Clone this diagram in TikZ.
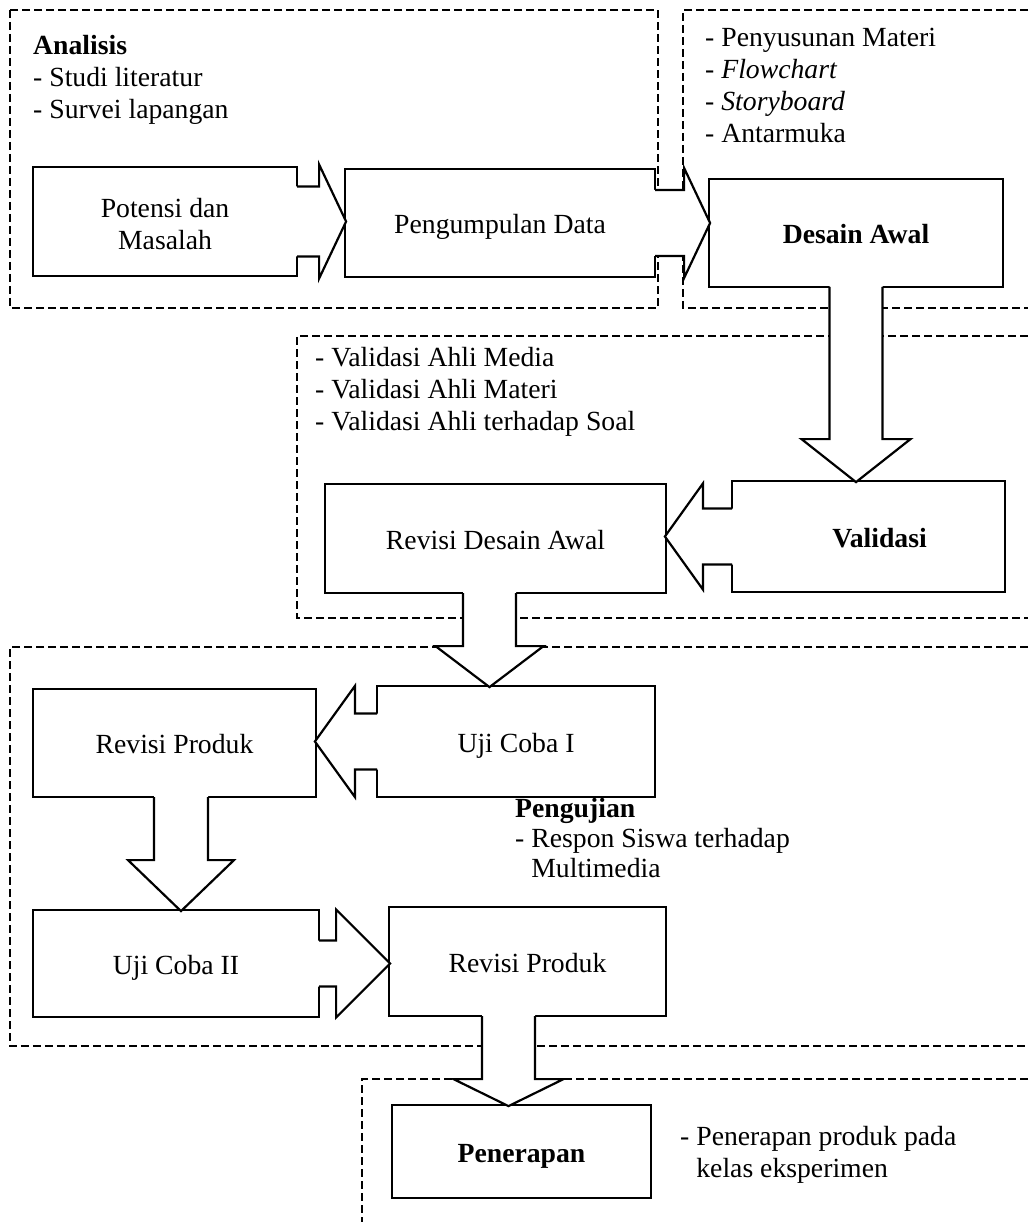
\documentclass[tikz,border=0pt]{standalone}
\usepackage{fontspec}
\setmainfont{Liberation Serif}
\usetikzlibrary{calc}
\begin{document}
\begin{tikzpicture}[x=1pt,y=-1pt,
  font=\fontsize{27.7pt}{32pt}\selectfont,
  frame/.style={line width=2pt, dash pattern=on 8pt off 4pt},
  box/.style={draw, line width=2.2pt, fill=white, inner sep=0pt},
  boxtext/.style={text height=21pt, text depth=0pt},
  list/.style={anchor=base west, inner sep=0pt},
  arrline/.style={line width=2.2pt, line join=miter},
  pics/rarr/.style n args={4}{code={
    \fill[white] (-3,-#1) -- (#2,-#1) -- (#2,-#3) -- (#4,0) -- (#2,#3) -- (#2,#1) -- (-3,#1) -- cycle;
    \draw[arrline] (-1.1,-#1) -- (#2,-#1) -- (#2,-#3) -- (#4,0) -- (#2,#3) -- (#2,#1) -- (-1.1,#1);
  }},
  pics/darr/.style n args={4}{code={
    \fill[white] (-#1,-3) -- (-#1,#2) -- (-#3,#2) -- (0,#4) -- (#3,#2) -- (#1,#2) -- (#1,-3) -- cycle;
    \draw[arrline] (-#1,-1.1) -- (-#1,#2) -- (-#3,#2) -- (0,#4) -- (#3,#2) -- (#1,#2) -- (#1,-1.1);
  }}
]
\useasboundingbox (0,0) rectangle (1028,1222);

% dashed stage frames
\draw[frame] (10,10) rectangle (658,308);
\draw[frame] (1028,10) -- (683,10) -- (683,308) -- (1028,308);
\draw[frame] (1028,336) -- (297,336) -- (297,618) -- (1028,618);
\draw[frame] (1028,647) -- (10,647) -- (10,1046) -- (1028,1046);
\draw[frame] (1028,1079) -- (362,1079) -- (362,1222);

% process boxes
\node[box, minimum width=264pt, minimum height=109pt,
      label={[align=center, inner sep=0pt, yshift=-3pt]center:Potensi dan\\Masalah}] (pot) at (165,221.5) {};
\node[box, boxtext, minimum width=310pt, minimum height=108pt] (pgd) at (500,223) {Pengumpulan Data};
\node[box, boxtext, minimum width=294pt, minimum height=108pt] (des) at (856,233) {\textbf{Desain Awal}};
\node[box, minimum width=273pt, minimum height=111pt,
      label={[boxtext, inner sep=0pt, xshift=11pt]center:\textbf{Validasi}}] (val) at (868.5,536.5) {};
\node[box, boxtext, minimum width=341pt, minimum height=109pt] (rda) at (495.5,538.5) {Revisi Desain Awal};
\node[box, boxtext, minimum width=278pt, minimum height=111pt] (uc1) at (516,741.5) {Uji Coba I};
\node[box, boxtext, minimum width=283pt, minimum height=108pt] (rp1) at (174.5,743) {Revisi Produk};
\node[box, boxtext, minimum width=286pt, minimum height=107pt] (uc2) at (176,963.5) {Uji Coba II};
\node[box, boxtext, minimum width=277pt, minimum height=109pt] (rp2) at (527.5,961.5) {Revisi Produk};
\node[box, boxtext, minimum width=259pt, minimum height=93pt] (pen) at (521.5,1151.5) {\textbf{Penerapan}};

% block arrows
\pic at (pot.east) {rarr={35}{21}{57}{48}};
\pic at (pgd.east) {rarr={33}{28}{55}{54}};
\pic at (des.south) {darr={26.5}{151}{54.5}{194}};
\pic[xscale=-1] at (val.west) {rarr={28}{28}{53}{66}};
\pic at ([xshift=-6pt]rda.south) {darr={26.5}{52}{54}{93}};
\pic[xscale=-1] at (uc1.west) {rarr={28}{21}{55.5}{61}};
\pic at ([xshift=6.5pt]rp1.south) {darr={27}{62}{53}{113}};
\pic at (uc2.east) {rarr={23}{16}{54}{70}};
\pic at ([xshift=-19pt]rp2.south) {darr={26.5}{62}{55}{89}};

% stage lists
\node[list] (anl) at (33,55) {\begin{tabular}[t]{@{}l@{}}\textbf{Analisis}\\- Studi literatur\\- Survei lapangan\end{tabular}};
\node[list] (dsl) at (705,47) {\begin{tabular}[t]{@{}l@{}}- Penyusunan Materi\\- \textit{Flowchart}\\- \textit{Storyboard}\\- Antarmuka\end{tabular}};
\node[list] (vll) at (315,366) {\begin{tabular}[t]{@{}l@{}}- Validasi Ahli Media\\- Validasi Ahli Materi\\- Validasi Ahli terhadap Soal\end{tabular}};
\node[list] (pgl) at (515,817) {\begin{tabular}[t]{@{}l@{}}\textbf{Pengujian}\\[-2pt]- Respon Siswa terhadap\\[-2pt]\hphantom{-\ }Multimedia\end{tabular}};
\node[list] (pnl) at (680,1145) {\begin{tabular}[t]{@{}l@{}}- Penerapan produk pada\\\hphantom{-\ }kelas eksperimen\end{tabular}};
\end{tikzpicture}
\end{document}
